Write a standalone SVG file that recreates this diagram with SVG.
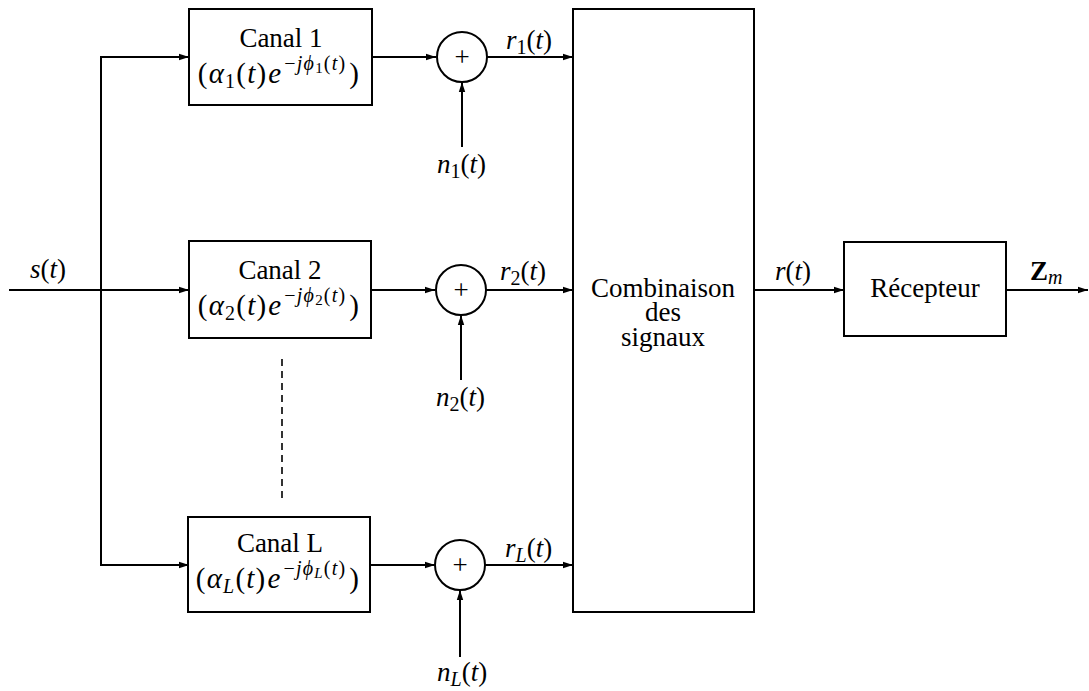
<svg xmlns="http://www.w3.org/2000/svg" width="1089" height="691" viewBox="0 0 1089 691">
<defs>
<style>
text{font-family:"Liberation Serif","DejaVu Serif",serif;font-size:27px;fill:#000}
.f{font-size:29px;text-anchor:middle;letter-spacing:1.2px}
.i{font-style:italic}
.s{font-size:20px}
.ss{font-size:15px}
.c{text-anchor:middle}
.box{fill:#fff;stroke:#000;stroke-width:2}
.ln{fill:none;stroke:#000;stroke-width:2}
.dash{fill:none;stroke:#000;stroke-width:1.6;stroke-dasharray:7,5}
</style>
<marker id="ah" viewBox="0 0 10 8" refX="10" refY="4" markerWidth="10" markerHeight="8" markerUnits="userSpaceOnUse" orient="auto">
<path d="M0,0.8 L10,4 L0,7.2 Z" fill="#000"/>
</marker>
</defs>
<rect width="1089" height="691" fill="#fff"/>

<g id="connectors">
<line class="ln" x1="9" y1="290" x2="189" y2="290" marker-end="url(#ah)"/>
<line class="ln" x1="101" y1="57" x2="101" y2="565"/>
<line class="ln" x1="100" y1="57" x2="189" y2="57" marker-end="url(#ah)"/>
<line class="ln" x1="100" y1="565" x2="189" y2="565" marker-end="url(#ah)"/>
<line class="ln" x1="371" y1="57" x2="436" y2="57" marker-end="url(#ah)"/>
<line class="ln" x1="371" y1="290" x2="435" y2="290" marker-end="url(#ah)"/>
<line class="ln" x1="370" y1="565" x2="435" y2="565" marker-end="url(#ah)"/>
<line class="ln" x1="487" y1="57" x2="573" y2="57" marker-end="url(#ah)"/>
<line class="ln" x1="486" y1="290" x2="573" y2="290" marker-end="url(#ah)"/>
<line class="ln" x1="485" y1="565" x2="573" y2="565" marker-end="url(#ah)"/>
<line class="ln" x1="462" y1="147" x2="462" y2="82" marker-end="url(#ah)"/>
<line class="ln" x1="461" y1="380" x2="461" y2="315" marker-end="url(#ah)"/>
<line class="ln" x1="460" y1="657" x2="460" y2="590" marker-end="url(#ah)"/>
<line class="ln" x1="754" y1="290" x2="844" y2="290" marker-end="url(#ah)"/>
<line class="ln" x1="1006" y1="290" x2="1088" y2="290" marker-end="url(#ah)"/>
<line class="dash" x1="282" y1="359" x2="282" y2="503"/>
</g>

<g id="label-s">
<text x="30" y="278"><tspan class="i">s</tspan>(<tspan class="i">t</tspan>)</text>
</g>

<g id="canal1">
<rect class="box" x="189" y="9" width="183" height="96"/>
<text class="c" x="281" y="47">Canal 1</text>
<text class="f" x="279" y="83">(<tspan class="i">α</tspan><tspan dy="5" class="s">1</tspan><tspan dy="-5">(</tspan><tspan class="i">t</tspan>)<tspan class="i" dx="1">e</tspan><tspan dx="2" dy="-13" class="s">−</tspan><tspan class="s i">jϕ</tspan><tspan dy="3" class="ss">1</tspan><tspan dy="-3" class="s">(</tspan><tspan class="s i">t</tspan><tspan class="s">)</tspan><tspan dx="3" dy="13">)</tspan></text>
</g>

<g id="canal2">
<rect class="box" x="189" y="241" width="182" height="97"/>
<text class="c" x="280" y="279">Canal 2</text>
<text class="f" x="279" y="315">(<tspan class="i">α</tspan><tspan dy="5" class="s">2</tspan><tspan dy="-5">(</tspan><tspan class="i">t</tspan>)<tspan class="i" dx="1">e</tspan><tspan dx="2" dy="-13" class="s">−</tspan><tspan class="s i">jϕ</tspan><tspan dy="3" class="ss">2</tspan><tspan dy="-3" class="s">(</tspan><tspan class="s i">t</tspan><tspan class="s">)</tspan><tspan dx="3" dy="13">)</tspan></text>
</g>

<g id="canalL">
<rect class="box" x="188" y="517" width="182" height="95"/>
<text class="c" x="280" y="552">Canal L</text>
<text class="f" x="278" y="588">(<tspan class="i">α</tspan><tspan dy="5" class="s i">L</tspan><tspan dy="-5">(</tspan><tspan class="i">t</tspan>)<tspan class="i" dx="1">e</tspan><tspan dx="2" dy="-13" class="s">−</tspan><tspan class="s i">jϕ</tspan><tspan dy="3" class="ss i">L</tspan><tspan dy="-3" class="s">(</tspan><tspan class="s i">t</tspan><tspan class="s">)</tspan><tspan dx="3" dy="13">)</tspan></text>
</g>

<g id="sum1">
<circle class="box" cx="462" cy="57" r="25"/>
<text class="c" x="462" y="66">+</text>
</g>
<g id="sum2">
<circle class="box" cx="461" cy="290" r="25"/>
<text class="c" x="461" y="299">+</text>
</g>
<g id="sumL">
<circle class="box" cx="460" cy="565" r="25"/>
<text class="c" x="460" y="574">+</text>
</g>

<g id="label-r1"><text x="506" y="49"><tspan class="i">r</tspan><tspan class="s" dy="5">1</tspan><tspan dy="-5">(</tspan><tspan class="i">t</tspan>)</text></g>
<g id="label-r2"><text x="500" y="280"><tspan class="i">r</tspan><tspan class="s" dy="5">2</tspan><tspan dy="-5">(</tspan><tspan class="i">t</tspan>)</text></g>
<g id="label-rL"><text x="505" y="557"><tspan class="i">r</tspan><tspan class="s i" dy="5">L</tspan><tspan dy="-5">(</tspan><tspan class="i">t</tspan>)</text></g>

<g id="label-n1"><text x="437" y="173"><tspan class="i">n</tspan><tspan class="s" dy="5">1</tspan><tspan dy="-5">(</tspan><tspan class="i">t</tspan>)</text></g>
<g id="label-n2"><text x="436" y="406"><tspan class="i">n</tspan><tspan class="s" dy="5">2</tspan><tspan dy="-5">(</tspan><tspan class="i">t</tspan>)</text></g>
<g id="label-nL"><text x="437" y="681"><tspan class="i">n</tspan><tspan class="s i" dy="5">L</tspan><tspan dy="-5">(</tspan><tspan class="i">t</tspan>)</text></g>

<g id="combinaison">
<rect class="box" x="573" y="9" width="181" height="603"/>
<text class="c" x="663" y="297">Combinaison<tspan x="663" dy="24">des</tspan><tspan x="663" dy="25">signaux</tspan></text>
</g>

<g id="label-r"><text x="775" y="280"><tspan class="i">r</tspan>(<tspan class="i">t</tspan>)</text></g>

<g id="recepteur">
<rect class="box" x="844" y="242" width="162" height="94"/>
<text class="c" x="925" y="297">Récepteur</text>
</g>

<g id="label-Z"><text x="1030" y="280"><tspan font-weight="bold">Z</tspan><tspan class="s i" dy="4">m</tspan></text></g>
</svg>
